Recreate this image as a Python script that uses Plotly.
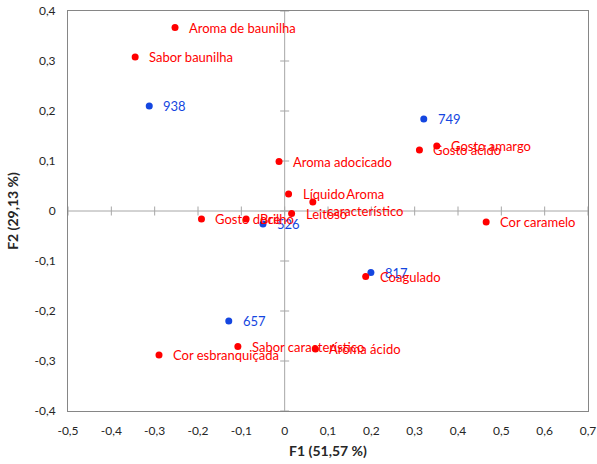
import plotly.graph_objects as go

attr_labels = ["Aroma de baunilha", "Sabor baunilha", "Aroma adocicado", "Líquido",
               "Aroma<br>característico", "Leitoso", "Gosto amargo", "Gosto ácido",
               "Cor caramelo", "Gosto doce", "Brilho", "Coagulado",
               "Sabor característico", "Cor esbranquiçada", "Aroma ácido"]
attr_f1 = [-0.253, -0.345, -0.013, 0.009, 0.065, 0.016, 0.351, 0.311,
           0.465, -0.192, -0.089, 0.187, -0.108, -0.290, 0.071]
attr_f2 = [0.367, 0.308, 0.099, 0.034, 0.018, -0.005, 0.130, 0.122,
           -0.022, -0.016, -0.016, -0.131, -0.271, -0.288, -0.276]

sample_labels = ["938", "749", "526", "817", "657"]
sample_f1 = [-0.3125, 0.321, -0.050, 0.199, -0.129]
sample_f2 = [0.210, 0.184, -0.026, -0.123, -0.220]

x_tickvals = [-0.5, -0.4, -0.3, -0.2, -0.1, 0, 0.1, 0.2, 0.3, 0.4, 0.5, 0.6, 0.7]
x_ticktext = ["-0,5", "-0,4", "-0,3", "-0,2", "-0,1", "0", "0,1", "0,2", "0,3", "0,4", "0,5", "0,6", "0,7"]
y_tickvals = [-0.4, -0.3, -0.2, -0.1, 0, 0.1, 0.2, 0.3, 0.4]
y_ticktext = ["-0,4", "-0,3", "-0,2", "-0,1", "0", "0,1", "0,2", "0,3", "0,4"]

RED = "#ff0000"
BLUE = "#1446e0"
FONT = "Lato"
AXIS_GRAY = "#a6a6a6"
FRAME_GRAY = "#868686"

fig = go.Figure()

fig.add_trace(go.Scatter(x=sample_f1, y=sample_f2, mode="markers",
                         marker=dict(color=BLUE, size=7), hoverinfo="skip"))
fig.add_trace(go.Scatter(x=attr_f1, y=attr_f2, mode="markers",
                         marker=dict(color=RED, size=7), hoverinfo="skip"))

annotations = []
for lab, x, y in zip(sample_labels, sample_f1, sample_f2):
    annotations.append(dict(x=x, y=y, text=lab, showarrow=False, xanchor="left",
                            yanchor="middle", xshift=12, align="center",
                            font=dict(color=BLUE, size=13, family=FONT)))
for lab, x, y in zip(attr_labels, attr_f1, attr_f2):
    annotations.append(dict(x=x, y=y, text=lab, showarrow=False, xanchor="left",
                            yanchor="middle", xshift=12, align="center",
                            font=dict(color=RED, size=13, family=FONT)))

shapes = [
    dict(type="line", xref="x", yref="y", x0=-0.5, x1=0.7, y0=0, y1=0,
         line=dict(color=AXIS_GRAY, width=1), layer="below"),
    dict(type="line", xref="x", yref="y", x0=0, x1=0, y0=-0.4, y1=0.4,
         line=dict(color=AXIS_GRAY, width=1), layer="below"),
]
for v in x_tickvals:
    shapes.append(dict(type="line", xref="x", yref="y", ysizemode="pixel", yanchor=0,
                       x0=v, x1=v, y0=-4.5, y1=4.5,
                       line=dict(color=AXIS_GRAY, width=1), layer="below"))
for v in y_tickvals:
    shapes.append(dict(type="line", xref="x", yref="y", xsizemode="pixel", xanchor=0,
                       y0=v, y1=v, x0=-4.5, x1=4.5,
                       line=dict(color=AXIS_GRAY, width=1), layer="below"))

fig.update_layout(
    width=597, height=464,
    margin=dict(l=68, r=9, t=11, b=53, autoexpand=False),
    paper_bgcolor="white", plot_bgcolor="white",
    showlegend=False,
    annotations=annotations,
    shapes=shapes,
    font=dict(family=FONT, size=12, color="#404040"),
    xaxis=dict(range=[-0.5, 0.7], tickvals=x_tickvals, ticktext=x_ticktext,
               showgrid=False, zeroline=False, showline=True, mirror=True,
               linecolor=FRAME_GRAY, linewidth=1, ticks="", ticklabelstandoff=9,
               automargin=False,
               tickfont=dict(size=12, color="#262626"),
               title=dict(text="<b>F1 (51,57 %)</b>", standoff=8,
                          font=dict(size=14, color="#262626"))),
    yaxis=dict(range=[-0.4, 0.4], tickvals=y_tickvals, ticktext=y_ticktext,
               showgrid=False, zeroline=False, showline=True, mirror=True,
               linecolor=FRAME_GRAY, linewidth=1, ticks="", ticklabelstandoff=9,
               automargin=False,
               tickfont=dict(size=12, color="#262626"),
               title=dict(text="<b>F2 (29,13 %)</b>", standoff=12,
                          font=dict(size=14, color="#262626"))),
)

# Remove the browser's default body margin so the figure fills the window.
fig.write_html("out.html",
               config=dict(displayModeBar=False, staticPlot=True),
               post_script="document.body.style.margin='0';document.body.style.overflow='hidden';")
